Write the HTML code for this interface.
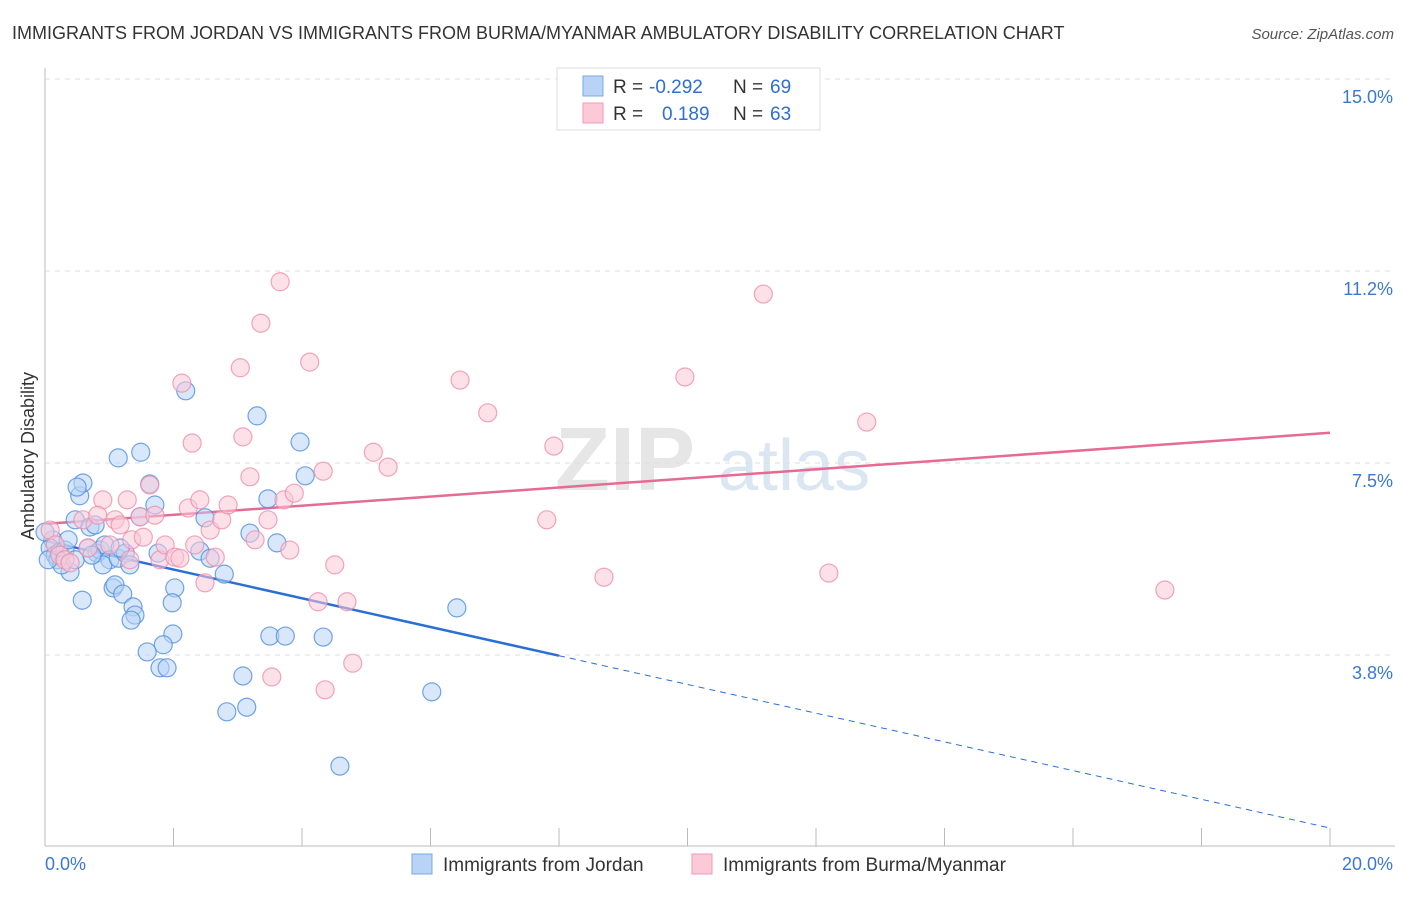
<!DOCTYPE html>
<html><head><meta charset="utf-8"><style>
body{margin:0;background:#fff;font-family:"Liberation Sans",sans-serif;}
svg text{font-family:"Liberation Sans",sans-serif;}
</style></head><body>
<svg id="chart" width="1406" height="892" viewBox="0 0 1406 892" xmlns="http://www.w3.org/2000/svg">
<text x="12" y="39" font-size="18" fill="#333">IMMIGRANTS FROM JORDAN VS IMMIGRANTS FROM BURMA/MYANMAR AMBULATORY DISABILITY CORRELATION CHART</text>
<text x="1394" y="39" font-size="15" fill="#555" text-anchor="end" font-style="italic">Source: ZipAtlas.com</text>
<g>
<text x="555" y="490" font-size="90" fill="#e6e6e6" font-family="Liberation Serif" font-weight="bold">ZIP</text>
<text x="718" y="490" font-size="72" fill="#dbe6f3">atlas</text>
</g>
<g id="grid"></g>
<g id="axes"></g>
<g id="lines"></g>
<g id="pts"></g>
<text transform="translate(34,456) rotate(-90)" font-size="18" fill="#333" text-anchor="middle">Ambulatory Disability</text>
<g>
<rect x="557" y="68" width="263" height="62" fill="#fff" stroke="#ddd"/>
<rect x="583" y="76" width="20" height="20" fill="#b8d3f5" stroke="#7aa7e6"/>
<rect x="583" y="103" width="20" height="20" fill="#fbc9d7" stroke="#f09ab4"/>
<text x="613" y="93" font-size="19" fill="#333">R =</text>
<text x="649" y="93" font-size="19" fill="#2f6fd1">-0.292</text>
<text x="733" y="93" font-size="19" fill="#333">N =</text>
<text x="770" y="93" font-size="19" fill="#2f6fd1">69</text>
<text x="613" y="120" font-size="19" fill="#333">R =</text>
<text x="662" y="120" font-size="19" fill="#2f6fd1">0.189</text>
<text x="733" y="120" font-size="19" fill="#333">N =</text>
<text x="770" y="120" font-size="19" fill="#2f6fd1">63</text>
</g>
<g>
<rect x="412" y="854" width="20" height="20" fill="#b8d3f5" stroke="#7aa7e6"/>
<text x="443" y="871" font-size="19" fill="#333">Immigrants from Jordan</text>
<rect x="692" y="854" width="20" height="20" fill="#fbc9d7" stroke="#f09ab4"/>
<text x="723" y="871" font-size="19" fill="#333">Immigrants from Burma/Myanmar</text>
</g>
</svg>
<script>
const xTicks=[0,2,4,6,8,10,12,14,16,18,20];
const yTicks=[3.75,7.5,11.25,15];
const yTickLabels=["3.8%","7.5%","11.2%","15.0%"];
const jordanX=[0.12,0.08,0.16,0.23,0.31,0.20,0.39,0.26,0.47,0.54,0.59,0.50,0.70,0.78,0.67,0.81,0.86,0.93,1.01,0.90,1.14,1.25,1.32,1.06,1.09,1.21,1.37,1.40,1.34,0.58,1.14,1.49,1.63,1.71,1.48,1.76,2.02,1.98,1.99,1.84,1.59,1.79,1.90,2.19,2.49,2.41,2.57,2.79,2.83,3.08,3.14,3.30,3.47,3.19,3.61,3.50,3.74,3.97,4.05,4.33,4.59,6.02,6.41,0.0,0.05,0.47,0.36,0.73,1.17];
const jordanY=[6.00,5.84,5.70,5.76,5.80,5.61,5.37,5.51,6.39,6.86,7.11,7.03,6.25,6.29,5.84,5.74,5.80,5.90,5.61,5.51,5.64,5.74,5.51,5.06,5.12,4.94,4.69,4.53,4.43,4.82,7.60,7.71,7.09,6.68,6.45,5.74,5.06,4.77,4.16,3.95,3.81,3.50,3.50,8.91,6.43,5.78,5.64,5.33,2.64,3.34,2.73,8.42,6.80,6.13,5.94,4.12,4.12,7.91,7.25,4.10,1.58,3.03,4.67,6.15,5.61,5.61,6.00,5.70,5.84];
const burmaX=[0.08,0.16,0.23,0.31,0.39,0.59,0.67,0.90,0.82,1.09,1.17,1.01,1.28,1.48,1.35,1.53,1.63,1.71,1.79,1.87,2.02,2.10,2.13,2.23,2.29,2.33,2.49,2.57,2.65,2.75,2.85,3.04,3.08,3.19,3.27,3.36,3.47,3.66,3.72,3.81,3.88,3.53,4.12,4.25,4.33,4.36,4.51,4.70,4.79,5.11,5.34,6.46,6.89,7.81,7.92,8.70,9.96,11.18,12.20,12.79,17.43,2.41,1.32];
const burmaY=[6.19,5.90,5.70,5.61,5.55,6.39,5.84,6.78,6.48,6.39,6.29,5.90,6.78,6.45,6.00,6.05,7.07,6.48,5.61,5.90,5.66,5.64,9.06,6.62,7.89,5.90,5.16,6.19,5.66,6.39,6.68,9.36,8.01,7.23,6.00,10.23,6.39,11.04,6.78,5.80,6.91,3.32,9.47,4.79,7.34,3.07,5.51,4.79,3.59,7.71,7.42,9.12,8.48,6.39,7.83,5.27,9.18,10.80,5.35,8.30,5.02,6.78,5.61];
const jordanTrend=[5.98,0.37];
const burmaTrend=[6.31,8.09];
const NS="http://www.w3.org/2000/svg";
const X=v=>45+v*(1330-45)/20;
const Y=v=>847-v*51.2;
function mk(tag,parent,attrs){const e=document.createElementNS(NS,tag);for(const k in attrs)e.setAttribute(k,attrs[k]);parent.appendChild(e);return e;}
const grid=document.getElementById('grid'),axes=document.getElementById('axes'),lines=document.getElementById('lines'),pts=document.getElementById('pts');
yTicks.forEach((t,i)=>{
 const l=mk('line',grid,{x1:45,x2:1395,y1:Y(t),y2:Y(t),stroke:'#ddd','stroke-dasharray':'5,5'});
 
 
 const tx=mk('text',axes,{x:1393,y:Y(t)+24,'font-size':18,fill:'#3a78d6','text-anchor':'end'});
 tx.textContent=yTickLabels[i];
 
 
});
const la=mk('line',axes,{x1:45,x2:45,y1:68,y2:846,stroke:'#bbb'});


const ba=mk('line',axes,{x1:45,x2:1395,y1:846,y2:846,stroke:'#bbb'});


xTicks.forEach(t=>{
 const tk=mk('line',axes,{x1:X(t),x2:X(t),y1:828,y2:846,stroke:'#bbb'});
 
 
});
const x0=mk('text',axes,{x:45,y:870,'font-size':18,fill:'#3a78d6'});x0.textContent='0.0%';


const x1=mk('text',axes,{x:1393,y:870,'font-size':18,fill:'#3a78d6','text-anchor':'end'});x1.textContent='20.0%';


function dot(x,y,fill,stroke,name){const c=mk('circle',pts,{cx:X(x),cy:Y(y),r:9,fill:fill,'fill-opacity':0.55,stroke:stroke,'stroke-opacity':0.8,'stroke-width':1.2});
 
 }
jordanX.forEach((x,i)=>dot(x,jordanY[i],'#b8d3f5','#4f8ee0','jordan-point'));
burmaX.forEach((x,i)=>dot(x,burmaY[i],'#fbc9d7','#ee8fab','burma-point'));
const bx=8;const by=jordanTrend[0]+(jordanTrend[1]-jordanTrend[0])*bx/20;
const t1=mk('line',lines,{x1:X(0),y1:Y(jordanTrend[0]),x2:X(bx),y2:Y(by),stroke:'#2a6fd6','stroke-width':2.5});


const t2=mk('line',lines,{x1:X(bx),y1:Y(by),x2:X(20),y2:Y(jordanTrend[1]),stroke:'#2a6fd6','stroke-width':1,'stroke-dasharray':'6,5'});


const t3=mk('line',lines,{x1:X(0),y1:Y(burmaTrend[0]),x2:X(20),y2:Y(burmaTrend[1]),stroke:'#e56b93','stroke-width':2.5});


</script>
</body></html>
